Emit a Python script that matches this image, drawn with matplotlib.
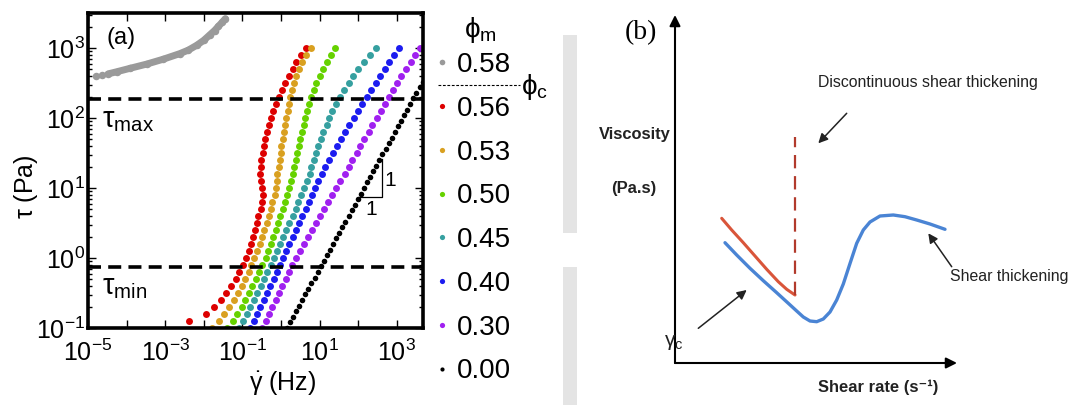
import numpy as np
import matplotlib
matplotlib.use('Agg')
import matplotlib.pyplot as plt
from matplotlib import font_manager
from matplotlib.lines import Line2D
from matplotlib.patches import Rectangle
from matplotlib.ticker import LogLocator, NullLocator

plt.rcParams['font.family'] = ['Liberation Sans', 'DejaVu Sans']
plt.rcParams['mathtext.fontset'] = 'custom'
plt.rcParams['mathtext.rm'] = 'Liberation Sans'
plt.rcParams['mathtext.it'] = 'Liberation Sans:italic'
plt.rcParams['mathtext.bf'] = 'Liberation Sans:bold'

# ---- panel (a): flow curves, log10 values ----
stress_log = [-1.0, -0.9, -0.8, -0.7, -0.6, -0.5, -0.4, -0.3, -0.2, -0.1,
              0.0, 0.1, 0.2, 0.3, 0.4, 0.5, 0.6, 0.7, 0.8, 0.9,
              1.0, 1.1, 1.2, 1.3, 1.4, 1.5, 1.6, 1.7, 1.8, 1.9,
              2.0, 2.1, 2.2, 2.3, 2.4, 2.5, 2.6, 2.7, 2.8, 2.9, 3.0]

rate_056 = [-2.38, -1.93, -1.73, -1.56, -1.42, -1.30, -1.17, -1.08, -0.99, -0.91,
            -0.84, -0.78, -0.72, -0.67, -0.63, -0.59, -0.53, -0.48, -0.47, -0.50,
            -0.53, -0.54, -0.53, -0.51, -0.47, -0.45, -0.41, -0.37, -0.32, -0.27,
            -0.21, -0.14, -0.06, 0.02, 0.11, 0.20, 0.31, 0.40, 0.52, 0.66]
rate_053 = [-1.78, -1.61, -1.48, -1.35, -1.23, -1.11, -1.02, -0.92, -0.84, -0.77,
            -0.69, -0.61, -0.54, -0.48, -0.43, -0.37, -0.32, -0.27, -0.22, -0.16,
            -0.12, -0.10, -0.09, -0.06, -0.03, -0.01, 0.00, 0.04, 0.08, 0.11,
            0.14, 0.17, 0.20, 0.24, 0.28, 0.33, 0.39, 0.46, 0.55, 0.65, 0.78]
rate_050 = [-1.39, -1.25, -1.13, -1.02, -0.92, -0.83, -0.74, -0.65, -0.56, -0.48,
            -0.40, -0.33, -0.26, -0.20, -0.14, -0.08, -0.02, 0.04, 0.10, 0.16,
            0.22, 0.27, 0.31, 0.35, 0.38, 0.42, 0.46, 0.49, 0.54, 0.59,
            0.63, 0.68, 0.73, 0.78, 0.85, 0.92, 1.00, 1.10, 1.19, 1.29, 1.39]
rate_045 = [-1.08, -0.98, -0.88, -0.79, -0.70, -0.61, -0.53, -0.44, -0.35, -0.26,
            -0.18, -0.10, -0.02, 0.06, 0.14, 0.22, 0.30, 0.38, 0.45, 0.53,
            0.60, 0.68, 0.74, 0.79, 0.85, 0.91, 0.97, 1.03, 1.10, 1.18,
            1.25, 1.32, 1.42, 1.53, 1.64, 1.75, 1.86, 1.99, 2.14, 2.30, 2.47]
rate_040 = [-0.80, -0.71, -0.63, -0.54, -0.45, -0.37, -0.28, -0.19, -0.11, -0.02,
            0.06, 0.14, 0.22, 0.31, 0.39, 0.47, 0.55, 0.64, 0.72, 0.81,
            0.89, 0.97, 1.06, 1.15, 1.25, 1.35, 1.45, 1.56, 1.66, 1.77,
            1.88, 1.99, 2.10, 2.22, 2.33, 2.45, 2.57, 2.69, 2.81, 2.94, 3.07]
rate_030 = [-0.48, -0.39, -0.31, -0.22, -0.14, -0.05, 0.03, 0.12, 0.20, 0.29,
            0.39, 0.49, 0.60, 0.70, 0.81, 0.91, 1.02, 1.12, 1.22, 1.33,
            1.43, 1.54, 1.65, 1.75, 1.85, 1.96, 2.06, 2.16, 2.27, 2.37,
            2.48, 2.58, 2.69, 2.79, 2.90, 3.01, 3.12, 3.24, 3.36, 3.48, 3.60]

gray_rate = [-4.80, -4.65, -4.48, -4.26, -3.91, -3.48, -3.05, -2.62, -2.40, -2.18,
             -2.00, -1.84, -1.72, -1.62, -1.52, -1.44]
gray_stress = [2.60, 2.61, 2.63, 2.66, 2.71, 2.77, 2.84, 2.92, 2.97, 3.04,
               3.11, 3.19, 3.25, 3.31, 3.37, 3.42]

black_rate = [0.15, 0.23, 0.31, 0.39, 0.47, 0.55, 0.63, 0.71, 0.79, 0.87,
              0.95, 1.03, 1.11, 1.19, 1.27, 1.35, 1.43, 1.51, 1.59, 1.67,
              1.75, 1.83, 1.91, 1.99, 2.07, 2.15, 2.23, 2.31, 2.39, 2.47,
              2.55, 2.63, 2.71, 2.79, 2.87, 2.95, 3.03, 3.11, 3.19, 3.27,
              3.35, 3.43, 3.51, 3.59, 3.67]
black_stress = [-1.00, -0.92, -0.84, -0.76, -0.68, -0.60, -0.52, -0.44, -0.36, -0.28,
                -0.20, -0.12, -0.04, 0.04, 0.12, 0.20, 0.28, 0.36, 0.44, 0.52,
                0.60, 0.68, 0.76, 0.84, 0.92, 1.00, 1.08, 1.16, 1.24, 1.32,
                1.40, 1.48, 1.56, 1.64, 1.72, 1.80, 1.88, 1.96, 2.04, 2.12,
                2.20, 2.28, 2.36, 2.44, 2.52]

phi_labels = ['0.58', '0.56', '0.53', '0.50', '0.45', '0.40', '0.30', '0.00']
tau_max = 186.0
tau_min = 0.74

x_ticks = [1e-5, 1e-4, 1e-3, 1e-2, 1e-1, 1e0, 1e1, 1e2, 1e3]
x_tick_labels = [r'$10^{-5}$', '', r'$10^{-3}$', '', r'$10^{-1}$', '', r'$10^{1}$', '', r'$10^{3}$']
y_ticks = [1e-1, 1e0, 1e1, 1e2, 1e3]
y_tick_labels = [r'$10^{-1}$', r'$10^{0}$', r'$10^{1}$', r'$10^{2}$', r'$10^{3}$']

# ---- panel (b): schematic viscosity curves (arbitrary units) ----
b_blue_rate = [5.0, 6.17, 7.5, 8.83, 10.17, 11.33, 12.17, 12.83, 13.5, 14.17, 14.83, 15.5,
               16.17, 16.83, 17.5, 18.17, 18.83, 19.5, 20.5, 21.83, 23.0, 24.17, 25.5, 27.0]
b_blue_visc = [12.03, 10.8, 9.47, 8.23, 7.03, 5.97, 5.2, 4.6, 4.2, 4.13, 4.4, 5.1,
               6.3, 7.9, 9.95, 11.97, 13.3, 14.1, 14.7, 14.8, 14.63, 14.3, 13.9, 13.37]
b_red_rate = [4.67, 5.67, 6.83, 8.0, 9.17, 10.33, 11.17, 12.0]
b_red_visc = [14.47, 13.3, 12.03, 10.7, 9.37, 8.13, 7.37, 6.8]
b_jump_rate = [12.0, 12.0]
b_jump_visc = [6.8, 22.6]

W, H = 1073, 405
fig = plt.figure(figsize=(W / 100, H / 100), dpi=100)

ax = fig.add_axes([88 / W, 77 / H, 335 / W, 315 / H])
ax.set_xscale('log')
ax.set_yscale('log')

st = 10 ** np.array(stress_log)
ax.plot(10 ** np.array(gray_rate[2:]), 10 ** np.array(gray_stress[2:]), '-', color='#9a9a9a', lw=5,
        solid_capstyle='round')
h_gray, = ax.plot(10 ** np.array(gray_rate), 10 ** np.array(gray_stress), 'o', color='#9a9a9a', ms=5.4, mec='none')

series = [(rate_056, st[1:], '#dd0000'),
          (rate_053, st, '#d9a020'),
          (rate_050, st, '#66d200'),
          (rate_045, st, '#36a0a0'),
          (rate_040, st, '#1c1cf0'),
          (rate_030, st, '#a020f0')]
handles = [h_gray]
for rate, stress, col in series:
    h, = ax.plot(10 ** np.array(rate), stress, 'o', color=col, ms=5.0, mec='none')
    handles.append(h)
h_black, = ax.plot(10 ** np.array(black_rate), 10 ** np.array(black_stress), 'o', color='black', ms=4.0, mec='none')
handles.append(h_black)

ax.axhline(tau_max, color='black', lw=2.6, ls=(0, (3.6, 2.0)))
ax.axhline(tau_min, color='black', lw=2.6, ls=(0, (3.6, 2.0)))

# slope triangle
ax.plot([10 ** 2.02, 10 ** 2.61, 10 ** 2.61], [10 ** 0.87, 10 ** 0.87, 10 ** 1.42], color='black', lw=0.9)
ax.text(10 ** 2.82, 10 ** 1.11, '1', fontsize=15, ha='center', va='center')
ax.text(10 ** 2.35, 10 ** 0.69, '1', fontsize=15, ha='center', va='center')

ax.text(0.054, 0.955, '(a)', transform=ax.transAxes, fontsize=17, ha='left', va='top')
ax.text(10 ** -4.64, 10 ** 2.17, r'$\mathrm{\tau}_{\mathrm{max}}$', fontsize=21, ha='left', va='top')
ax.text(10 ** -4.64, 10 ** -0.22, r'$\mathrm{\tau}_{\mathrm{min}}$', fontsize=21, ha='left', va='top')

ax.set_xlim(1e-5, 10 ** 3.68)
ax.set_ylim(0.1, 10 ** 3.5)
ax.set_xticks(x_ticks)
ax.set_xticklabels(x_tick_labels)
ax.xaxis.set_minor_locator(NullLocator())
ax.set_yticks(y_ticks)
ax.set_yticklabels(y_tick_labels)
ax.yaxis.set_minor_locator(LogLocator(base=10, subs=np.arange(2, 10), numticks=20))
ax.tick_params(which='both', direction='in', top=True, right=True, width=1)
ax.tick_params(which='major', length=6, labelsize=18)
ax.tick_params(axis='x', pad=8)
ax.tick_params(axis='y', pad=2)
ax.tick_params(which='minor', length=3)
for s in ax.spines.values():
    s.set_linewidth(2.6)

ax.set_ylabel(r'$\mathrm{\tau}$ (Pa)', fontsize=18, va='center')
ax.yaxis.set_label_coords(-0.185, 0.45)
ax.set_xlabel(r'$\dot{\mathrm{\gamma}}$ (Hz)', fontsize=18, va='top')
ax.xaxis.set_label_coords(0.582, -0.13)

ax.legend(handles, phi_labels, loc='upper left', bbox_to_anchor=(436 / W, 1 - 52 / H),
          bbox_transform=fig.transFigure, frameon=False, fontsize=20, handlelength=0.4,
          handletextpad=0.35, labelspacing=0.64, borderpad=0, borderaxespad=0, markerscale=0.75)
fig.text(480 / W, 1 - 30 / H, r'$\mathrm{\phi}_{\mathrm{m}}$', fontsize=20, ha='center', va='center')
fig.add_artist(Line2D([438 / W, 520 / W], [1 - 85 / H, 1 - 85 / H], transform=fig.transFigure,
                      color='black', lw=0.8, ls=(0, (2.5, 1.5))))
fig.text(521 / W, 1 - 87 / H, r'$\mathrm{\phi}_{\mathrm{c}}$', fontsize=20, ha='left', va='center')

# light separator band of the composite figure
fig.add_artist(Rectangle((563 / W, 1 - 233 / H), 14 / W, 198 / H, transform=fig.transFigure,
                         color='#e4e4e4', lw=0, zorder=0))
fig.add_artist(Rectangle((563 / W, 0), 14 / W, 138 / H, transform=fig.transFigure,
                         color='#e4e4e4', lw=0, zorder=0))

# ---- panel (b) ----
names = {f.name for f in font_manager.fontManager.ttflist}
narrow = 'Liberation Sans Narrow' in names
bfam = ['Liberation Sans Narrow', 'DejaVu Sans'] if narrow else ['Liberation Sans', 'DejaVu Sans']
k = 1.0 if narrow else 0.82

axb = fig.add_axes([580 / W, 0, 493 / W, 1])
axb.set_xlim(-9.5, 39.8)
axb.set_ylim(-4.2, 36.3)
axb.axis('off')

axb.plot(b_blue_rate, b_blue_visc, color='#4a84d4', lw=2.4, solid_capstyle='round')
axb.plot(b_red_rate, b_red_visc, color='#d9553a', lw=2.2, solid_capstyle='round')
axb.plot(b_jump_rate, b_jump_visc, color='#b23a2c', lw=1.6, ls=(0, (6, 3.5)))

arrow_axis = dict(arrowstyle='-|>', lw=1.5, color='black', mutation_scale=16, shrinkA=0, shrinkB=0)
axb.annotate('', xy=(0, 34.8), xytext=(0, 0), arrowprops=arrow_axis)
axb.annotate('', xy=(28.2, 0), xytext=(0, 0), arrowprops=arrow_axis)
arrow_note = dict(arrowstyle='-|>', lw=1.1, color='#222222', mutation_scale=14, shrinkA=0, shrinkB=0)
axb.annotate('', xy=(14.33, 21.97), xytext=(17.17, 24.97), arrowprops=arrow_note)
axb.annotate('', xy=(25.33, 12.97), xytext=(27.67, 9.63), arrowprops=arrow_note)
axb.annotate('', xy=(7.17, 7.3), xytext=(2.33, 3.47), arrowprops=arrow_note)

axb.text(-3.4, 33.0, '(b)', family=['Liberation Serif', 'DejaVu Serif'], fontsize=20, ha='center', va='center')
axb.text(-4.0, 22.8, 'Viscosity', family=bfam, fontsize=14.5 * k, weight='bold', ha='center', va='center',
         color='#222222')
axb.text(-4.1, 17.5, '(Pa.s)', family=bfam, fontsize=14.5 * k, weight='bold', ha='center', va='center',
         color='#222222')
axb.text(25.3, 28.1, 'Discontinuous shear thickening', family=bfam, fontsize=14 * k, ha='center',
         va='center', color='#222222')
axb.text(33.4, 8.6, 'Shear thickening', family=bfam, fontsize=14 * k, ha='center', va='center',
         color='#222222')
axb.text(20.3, -2.4, 'Shear rate (s⁻¹)', family=bfam, fontsize=14.5 * k, weight='bold', ha='center',
         va='center', color='#222222')
axb.text(-0.1, 2.0, r'$\mathrm{\gamma_c}$', fontsize=15, ha='center', va='center', color='#222222')

fig.savefig('out.png', dpi=100)
